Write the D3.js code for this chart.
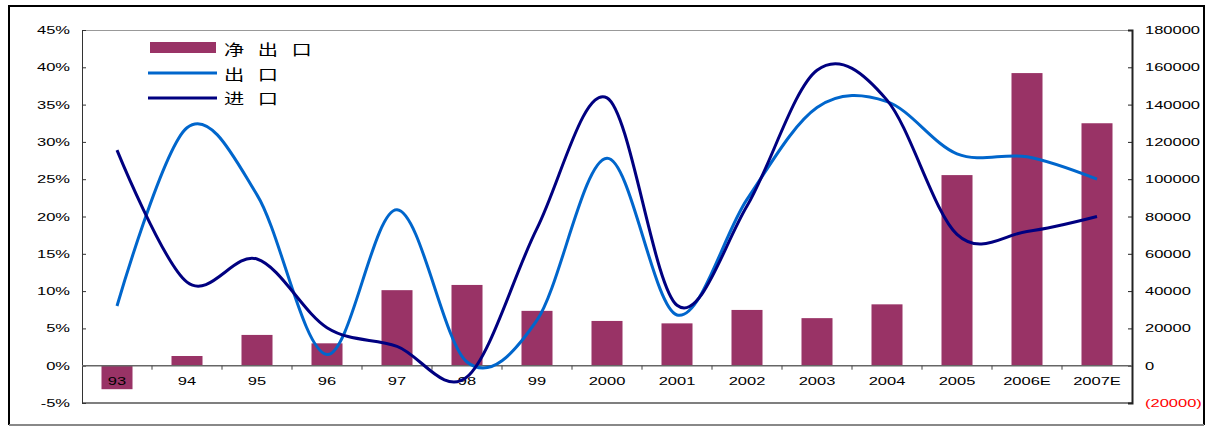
<!DOCTYPE html>
<html>
<head>
<meta charset="utf-8">
<script src="https://cdn.jsdelivr.net/npm/d3@7"></script>
<style>
  html, body { margin: 0; padding: 0; background: #fff; }
  svg { display: block; }
  text { font-family: "Liberation Sans", Arial, sans-serif; font-size: 11px; }
  .cjk { font-family: "Noto Sans CJK SC", sans-serif; font-size: 15px; }
</style>
</head>
<body>
<svg id="chart" width="1209" height="427"></svg>
<script>
// Years on the category axis
const categories = ["93","94","95","96","97","98","99","2000","2001","2002","2003","2004","2005","2006E","2007E"];
// Net exports (right axis)
const netExports = [-12600, 5200, 16500, 12000, 40500, 43300, 29400, 24000, 22700, 29900, 25500, 32900, 102200, 156900, 130000];
// Export growth, % (left axis)
const exportGrowth = [8.0, 31.9, 22.9, 1.5, 20.9, 0.5, 6.1, 27.8, 6.8, 22.3, 34.6, 35.4, 28.4, 28.0, 25.0];
// Import growth, % (left axis)
const importGrowth = [28.9, 11.2, 14.3, 5.1, 2.6, -1.5, 18.4, 35.9, 8.1, 21.4, 39.6, 35.6, 17.6, 18.0, 20.0];
// Axis tick values
const leftTicks = [-5, 0, 5, 10, 15, 20, 25, 30, 35, 40, 45];
const rightTicks = [-20000, 0, 20000, 40000, 60000, 80000, 100000, 120000, 140000, 160000, 180000];
// Legend entries
const legendLabels = ["净出口", "出口", "进口"];

const svg = d3.select("#chart");
const X0 = 82, X1 = 1132, YT = 30, YB = 403;
const TX = 1.5; // horizontal stretch of the label text

const x = d3.scaleBand().domain(categories).range([X0, X1]).paddingInner(0.557).paddingOuter(0.2785);
const yL = d3.scaleLinear().domain([-5, 45]).range([YB, YT]);
const yR = d3.scaleLinear().domain([-20000, 180000]).range([YB, YT]);
const band = (X1 - X0) / categories.length;
const cx = (c, i) => X0 + band * (i + 0.5);

// outer frame
svg.append("path").attr("d", "M9,425V6H1204V425").attr("fill", "none").attr("stroke", "#000").attr("stroke-width", 2);
svg.append("line").attr("x1", 9).attr("x2", 1204).attr("y1", 425).attr("y2", 425).attr("stroke", "#888").attr("stroke-width", 2);

// plot frame top / bottom
svg.append("line").attr("x1", X0).attr("x2", X1).attr("y1", YT + 0.5).attr("y2", YT + 0.5).attr("stroke", "#999");
svg.append("line").attr("x1", X0).attr("x2", X1).attr("y1", YB).attr("y2", YB).attr("stroke", "#555").attr("stroke-width", 1.5);

// net export bars
svg.append("g").selectAll("rect").data(netExports).join("rect")
  .attr("x", (d, i) => cx(null, i) - x.bandwidth() / 2)
  .attr("width", x.bandwidth())
  .attr("y", d => Math.min(yR(d), yR(0)))
  .attr("height", d => Math.abs(yR(d) - yR(0)))
  .attr("fill", "#993366");

// left axis
const gL = svg.append("g").attr("transform", `translate(${X0},0)`)
  .call(d3.axisLeft(yL).tickValues(leftTicks).tickSize(-4).tickPadding(0).tickFormat(d => d + "%"));
gL.select(".domain").attr("stroke", "#333");
gL.selectAll(".tick line").attr("stroke", "#333");
gL.selectAll("text").attr("x", null).attr("transform", `translate(-12,0) scale(${TX},1)`)
  .style("font-family", "Liberation Sans, Arial, sans-serif").style("font-size", "11px").style("fill", "#000");

// right axis
const gR = svg.append("g").attr("transform", `translate(${X1},0)`)
  .call(d3.axisRight(yR).tickValues(rightTicks).tickSize(-4).tickPadding(0)
    .tickFormat(d => d < 0 ? `(${Math.abs(d)})` : String(d)));
gR.select(".domain").attr("stroke", "#222").attr("stroke-width", 2);
gR.selectAll(".tick line").attr("stroke", "#222");
gR.selectAll("text").attr("x", null).attr("transform", `translate(13,0) scale(${TX},1)`)
  .style("font-family", "Liberation Sans, Arial, sans-serif").style("font-size", "11px")
  .style("fill", d => d < 0 ? "#ff0000" : "#000");

// category axis along zero
const y0 = yL(0);
svg.append("line").attr("x1", X0).attr("x2", X1).attr("y1", y0).attr("y2", y0).attr("stroke", "#666").attr("stroke-width", 1.5);
svg.append("g").selectAll("line").data(categories.slice(1)).join("line")
  .attr("x1", (d, i) => X0 + band * (i + 1)).attr("x2", (d, i) => X0 + band * (i + 1))
  .attr("y1", y0).attr("y2", y0 + 4).attr("stroke", "#444");
svg.append("g").selectAll("text").data(categories).join("text")
  .attr("transform", (d, i) => `translate(${cx(d, i)},385) scale(${TX},1)`)
  .attr("text-anchor", "middle").style("fill", "#000").text(d => d);

// growth lines
const line = d3.line().x((d, i) => cx(null, i)).y(d => yL(d)).curve(d3.curveCatmullRom.alpha(0));
svg.append("path").datum(exportGrowth).attr("d", line)
  .attr("fill", "none").attr("stroke", "#0066cc").attr("stroke-width", 3).attr("stroke-linejoin", "round");
svg.append("path").datum(importGrowth).attr("d", line)
  .attr("fill", "none").attr("stroke", "#000080").attr("stroke-width", 3).attr("stroke-linejoin", "round");

// legend
const lg = svg.append("g");
lg.append("rect").attr("x", 150).attr("y", 42).attr("width", 66).attr("height", 11).attr("fill", "#993366");
lg.append("line").attr("x1", 148).attr("x2", 217).attr("y1", 73).attr("y2", 73).attr("stroke", "#0066cc").attr("stroke-width", 3);
lg.append("line").attr("x1", 148).attr("x2", 217).attr("y1", 98).attr("y2", 98).attr("stroke", "#000080").attr("stroke-width", 3);
lg.selectAll("text").data(legendLabels).join("text")
  .attr("class", "cjk")
  .attr("transform", (d, i) => `translate(224,${48.5 + i * 24.5}) scale(1.35,1)`)
  .attr("dominant-baseline", "central")
  .style("letter-spacing", "10px")
  .style("fill", "#000")
  .text(d => d);
</script>
</body>
</html>
